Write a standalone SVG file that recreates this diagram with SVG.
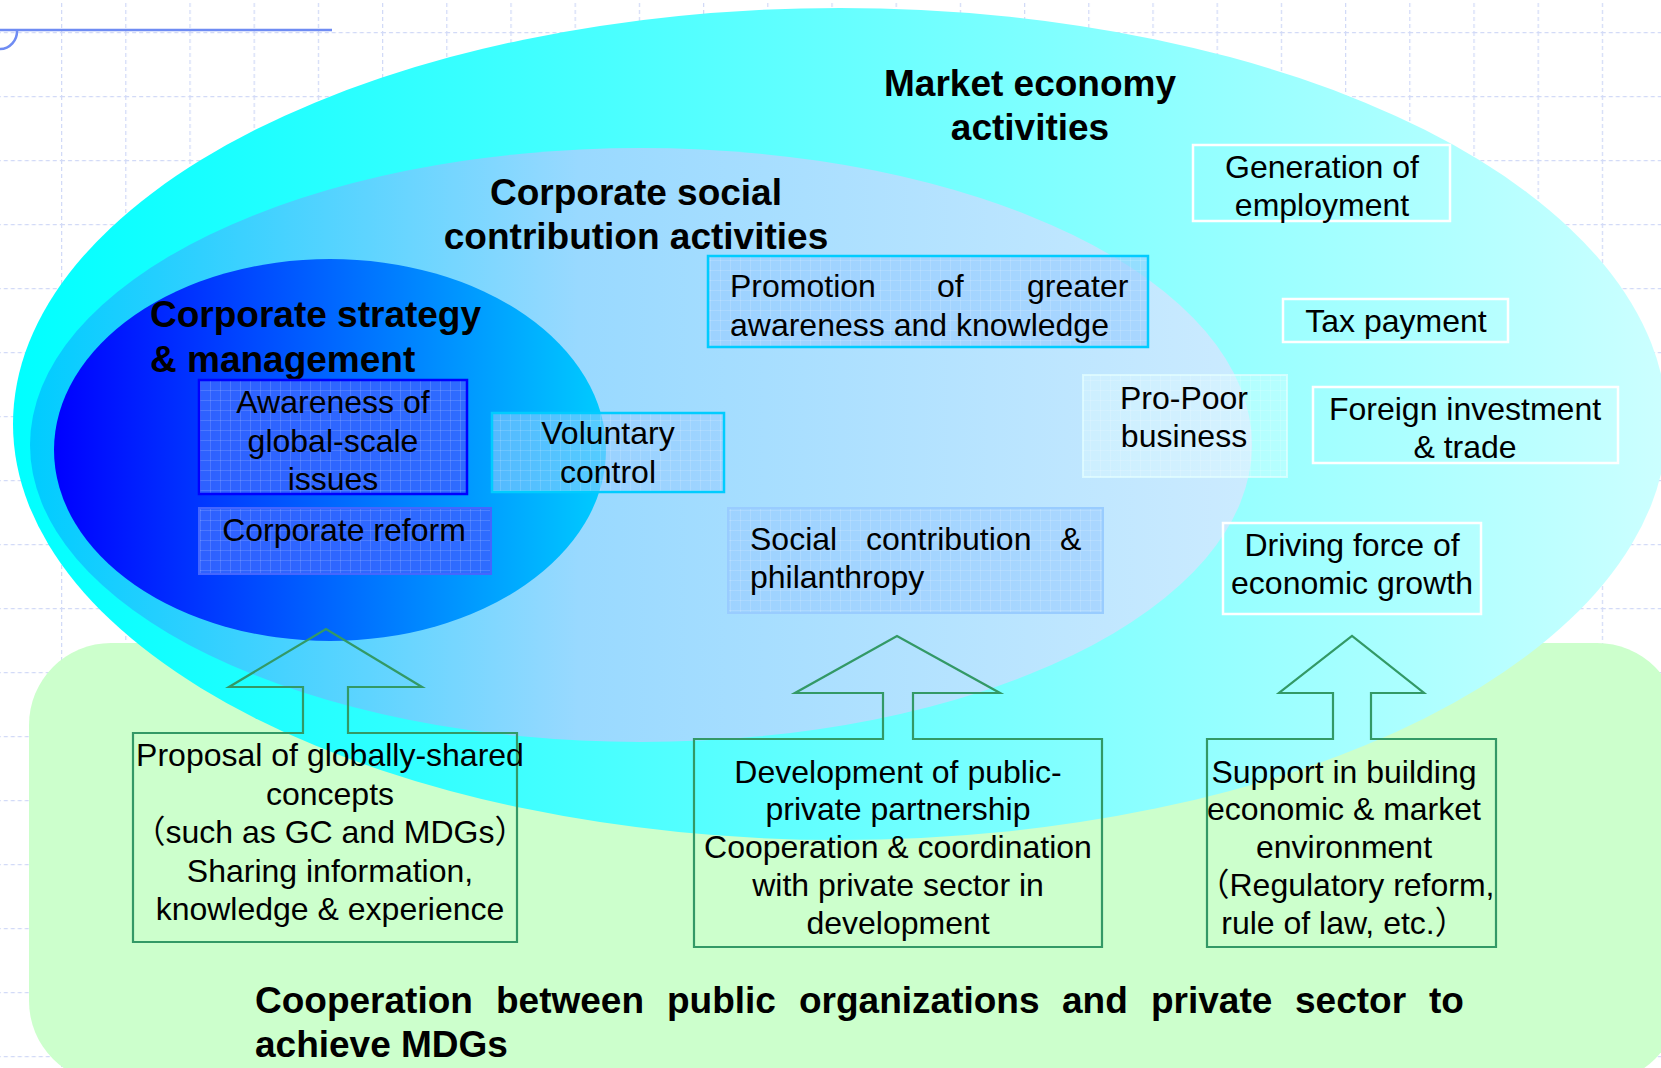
<svg xmlns="http://www.w3.org/2000/svg" width="1661" height="1068" viewBox="0 0 1661 1068">
<style>
  .t { font-family: "Liberation Sans", Arial, sans-serif; font-size: 32px; fill: #000; }
  .c { text-anchor: middle; }
  .h { font-family: "Liberation Sans", Arial, sans-serif; font-size: 37px; font-weight: bold; fill: #000; }
  .cjk { font-family: "Liberation Sans", Arial, "Noto Sans CJK JP", sans-serif; }
  .wbox { fill: none; stroke: #FFFFFF; stroke-width: 2.5; }
  .gbox { fill: none; stroke: #339966; stroke-width: 2.2; stroke-linejoin: miter; }
  .tex { fill: url(#tex); }
</style>
<defs>
  <pattern id="grid" patternUnits="userSpaceOnUse" x="61" y="32" width="64.2" height="64">
    <path d="M0 0.5 H64.2 M0.5 0 V64" fill="none" stroke="#D2DAF7" stroke-width="1.5" stroke-dasharray="4 3"/>
  </pattern>
  <pattern id="tex" patternUnits="userSpaceOnUse" width="10" height="10">
    <path d="M0 0.5 H10 M0.5 0 V10" fill="none" stroke="#FFFFFF" stroke-opacity="0.14" stroke-width="1"/>
  </pattern>
  <linearGradient id="gBig" x1="0" y1="0" x2="1" y2="0">
    <stop offset="0" stop-color="#00FFFF"/>
    <stop offset="1" stop-color="#CCFFFF"/>
  </linearGradient>
  <linearGradient id="gMid" x1="0" y1="0" x2="1" y2="0">
    <stop offset="0" stop-color="#00CCFF"/>
    <stop offset="0.45" stop-color="#99D9FF"/>
    <stop offset="1" stop-color="#CCEBFF"/>
  </linearGradient>
  <linearGradient id="gIn" x1="0" y1="0" x2="1" y2="0">
    <stop offset="0" stop-color="#0000FF"/>
    <stop offset="1" stop-color="#00CCFF"/>
  </linearGradient>
</defs>

<g id="background">
  <rect x="0" y="0" width="1661" height="1068" fill="#FFFFFF"/>
  <rect x="0" y="0" width="1661" height="1068" fill="url(#grid)"/>
  <path d="M0 30 H332" stroke="#6F8CF3" stroke-width="2.5" fill="none"/>
  <path d="M17 30 A17 18 0 0 1 0 49" stroke="#6F8CF3" stroke-width="2.5" fill="none"/>
</g>

<g id="mdg-area">
  <rect x="29" y="643" width="1650" height="440" rx="82" ry="82" fill="#CCFFCC"/>
</g>

<g id="market-economy">
  <ellipse cx="840" cy="424" rx="827" ry="416" fill="url(#gBig)"/>
</g>
<g id="social-contribution">
  <ellipse cx="641" cy="445" rx="611" ry="297" fill="url(#gMid)"/>
</g>
<g id="corporate-strategy">
  <ellipse cx="330" cy="450" rx="276" ry="191" fill="url(#gIn)"/>
</g>

<g id="titles">
  <text class="h c" x="1030" y="96">Market economy</text>
  <text class="h c" x="1030" y="140">activities</text>
  <text class="h c" x="636" y="205">Corporate social</text>
  <text class="h c" x="636" y="249">contribution activities</text>
  <text class="h" x="150" y="327">Corporate strategy</text>
  <text class="h" x="150" y="372">&amp; management</text>
</g>

<g id="node-generation">
  <rect class="wbox" x="1193" y="145" width="257" height="76"/>
  <text class="t c" x="1322" y="178">Generation of</text>
  <text class="t c" x="1322" y="216">employment</text>
</g>
<g id="node-tax">
  <rect class="wbox" x="1283" y="299" width="225" height="43"/>
  <text class="t c" x="1396" y="332">Tax payment</text>
</g>
<g id="node-foreign">
  <rect class="wbox" x="1313" y="387" width="305" height="76"/>
  <text class="t c" x="1465" y="420">Foreign investment</text>
  <text class="t c" x="1465" y="458">&amp; trade</text>
</g>
<g id="node-driving">
  <rect class="wbox" x="1223" y="523" width="258" height="91"/>
  <text class="t c" x="1352" y="556">Driving force of</text>
  <text class="t c" x="1352" y="594">economic growth</text>
</g>
<g id="node-propoor">
  <rect x="1083" y="375" width="204" height="102" fill="#E4FFFF" fill-opacity="0.35" stroke="#E4FFFF" stroke-opacity="0.7" stroke-width="2"/>
  <rect class="tex" x="1083" y="375" width="204" height="102"/>
  <text class="t c" x="1184" y="409">Pro-Poor</text>
  <text class="t c" x="1184" y="447">business</text>
</g>
<g id="node-promotion">
  <rect x="708" y="256" width="440" height="91" fill="#99CCFF" fill-opacity="0.65"/>
  <rect class="tex" x="708" y="256" width="440" height="91"/>
  <rect x="708" y="256" width="440" height="91" fill="none" stroke="#00CCFF" stroke-width="2.5"/>
  <text class="t" y="297"><tspan x="730">Promotion</tspan><tspan x="937">of</tspan><tspan x="1027">greater</tspan></text>
  <text class="t" x="730" y="336">awareness and knowledge</text>
</g>
<g id="node-social">
  <rect x="728" y="508" width="375" height="105" fill="#99CCFF" fill-opacity="0.6"/>
  <rect class="tex" x="728" y="508" width="375" height="105"/>
  <rect x="728" y="508" width="375" height="105" fill="none" stroke="#99CCFF" stroke-width="2"/>
  <text class="t" y="550"><tspan x="750">Social</tspan><tspan x="866">contribution</tspan><tspan x="1060">&amp;</tspan></text>
  <text class="t" x="750" y="588">philanthropy</text>
</g>
<g id="node-voluntary">
  <rect x="492" y="413" width="232" height="79" fill="#99CCFF" fill-opacity="0.55"/>
  <rect class="tex" x="492" y="413" width="232" height="79"/>
  <rect x="492" y="413" width="232" height="79" fill="none" stroke="#00CCFF" stroke-width="2.5"/>
  <text class="t c" x="608" y="444">Voluntary</text>
  <text class="t c" x="608" y="483">control</text>
</g>
<g id="node-awareness">
  <rect x="199" y="380" width="268" height="114" fill="#3366FF" fill-opacity="0.9"/>
  <rect class="tex" x="199" y="380" width="268" height="114"/>
  <rect x="199" y="380" width="268" height="114" fill="none" stroke="#0000FF" stroke-width="2.5"/>
  <text class="t c" x="333" y="413">Awareness of</text>
  <text class="t c" x="333" y="452">global-scale</text>
  <text class="t c" x="333" y="490">issues</text>
</g>
<g id="node-reform">
  <rect x="199" y="508" width="292" height="66" fill="#3366FF" fill-opacity="0.9"/>
  <rect class="tex" x="199" y="508" width="292" height="66"/>
  <rect x="199" y="508" width="292" height="66" fill="none" stroke="#4466FF" stroke-width="2"/>
  <text class="t c" x="344" y="541">Corporate reform</text>
</g>

<g id="connectors">
  <path class="gbox" d="M303 733 V687 H229 L326 629 L422 687 H348 V733 H517 V942 H133 V733 Z"/>
  <path class="gbox" d="M883 739 V693 H795 L897 636 L1000 693 H913 V739 H1102 V947 H694 V739 Z"/>
  <path class="gbox" d="M1333 739 V693 H1279 L1352 636 L1424 693 H1371 V739 H1496 V947 H1207 V739 Z"/>
</g>

<g id="node-proposal">
  <text class="t c" x="330" y="766">Proposal of globally-shared</text>
  <text class="t c" x="330" y="805">concepts</text>
  <text class="t c cjk" x="330" y="843">（such as GC and MDGs）</text>
  <text class="t c" x="330" y="882">Sharing information,</text>
  <text class="t c" x="330" y="920">knowledge &amp; experience</text>
</g>
<g id="node-ppp">
  <text class="t c" x="898" y="783">Development of public-</text>
  <text class="t c" x="898" y="820">private partnership</text>
  <text class="t c" x="898" y="858">Cooperation &amp; coordination</text>
  <text class="t c" x="898" y="896">with private sector in</text>
  <text class="t c" x="898" y="934">development</text>
</g>
<g id="node-support">
  <text class="t c" x="1344" y="783">Support in building</text>
  <text class="t c" x="1344" y="820">economic &amp; market</text>
  <text class="t c" x="1344" y="858">environment</text>
  <text class="t c cjk" x="1346" y="896">（Regulatory reform,</text>
  <text class="t c cjk" x="1344" y="934">rule of law, etc.）</text>
</g>

<g id="footer">
  <text class="h" y="1013"><tspan x="255">Cooperation</tspan><tspan x="496">between</tspan><tspan x="667">public</tspan><tspan x="799">organizations</tspan><tspan x="1062">and</tspan><tspan x="1151">private</tspan><tspan x="1295">sector</tspan><tspan x="1429">to</tspan></text>
  <text class="h" x="255" y="1057">achieve MDGs</text>
</g>
</svg>
